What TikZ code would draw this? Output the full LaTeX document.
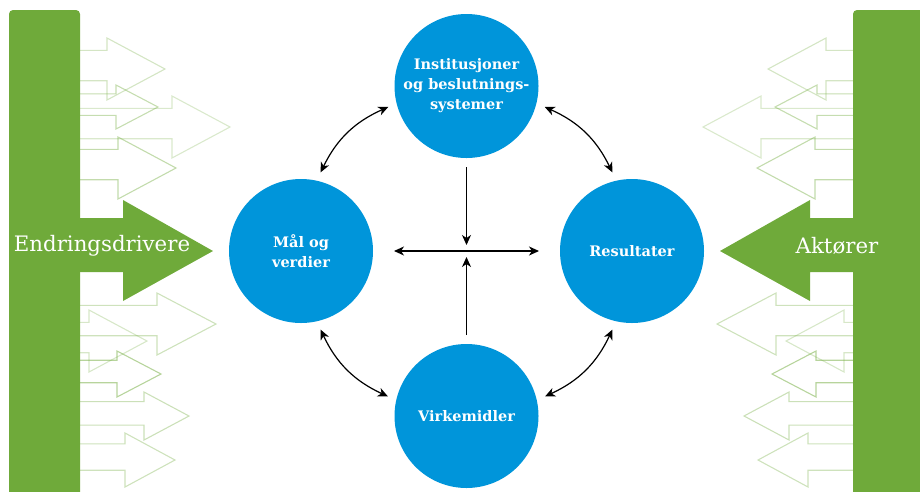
\documentclass[tikz,border=0pt]{standalone}
\usepackage{fontspec}
\setmainfont{DejaVu Serif}
\usepackage{xcolor}
\usetikzlibrary{arrows.meta, calc}

\definecolor{factorblue}{RGB}{0,149,218}
\definecolor{drivegreen}{RGB}{111,170,58}

\begin{document}
\begin{tikzpicture}[x=1pt, y=-1pt,
    % --- node styles ---
    factor/.style={circle, fill=factorblue, minimum size=144pt, inner sep=0pt,
        outer sep=9pt, text=white, align=center,
        font=\fontsize{14.5}{20}\selectfont\bfseries},
    sidelbl/.style={text=white, inner sep=0pt, font=\fontsize{21.3}{24}\selectfont},
    % --- side shapes ---
    bar/.style={fill=drivegreen},
    ghost/.style={draw=drivegreen, line width=1.1pt, line join=miter},
    % --- arrow styles ---
    arr/.style={-{Stealth[length=10pt, width=9pt, inset=3pt]}, line width=1.2pt},
    dbl/.style={{Stealth[length=10pt, width=9pt, inset=3pt]}-{Stealth[length=10pt, width=9pt, inset=3pt]},
        line width=1.2pt}
]
\useasboundingbox (0,0) rectangle (920,491);

%%% ================= SIDE DRIVERS (left, then mirrored) =================
\newcommand\drivers{%
  \foreach \c/\b/\t/\h/\o in {69/107/165/31/0.30, 107/116/158/22/0.40,
      127/172/230/31/0.26, 168/118/176/31/0.42, 324/157/216/31/0.34,
      341/89/147/31/0.28, 374/117/161/23/0.50, 416/144/189/24/0.36,
      460/125/175/27/0.34}
    \draw[ghost, draw opacity=\o] (80,\c-0.6*\h) -- (\b,\c-0.6*\h) -- (\b,\c-\h)
      -- (\t,\c) -- (\b,\c+\h) -- (\b,\c+0.38*\h) -- (80,\c+0.38*\h);
  \fill[bar, rounded corners=4pt] (9,496) -- (9,10) -- (80,10) -- (80,496) -- cycle;
  \fill[bar] (79,218) -- (123,218) -- (123,200) -- (213,251) -- (123,301)
    -- (123,272) -- (79,272) -- cycle;
}
\drivers
\begin{scope}[xshift=933pt, xscale=-1]
  \drivers
\end{scope}

\node (endring) [sidelbl] at (102,246) {Endringsdrivere};
\node (aktor)   [sidelbl] at (837,246) {Aktører};

%%% ================= FACTORS =================
\node (inst)    [factor] at (466.5,86)  {Institusjoner\\og beslutnings-\\systemer};
\node (goals)   [factor] at (301,251)   {Mål og\\verdier};
\node (results) [factor] at (632,251)   {Resultater};
\node (tools)   [factor] at (466.5,416) {Virkemidler};
\coordinate (hub) at (466.5,251);

%%% ================= ARROWS =================
%% Into the centre
\draw [arr, shorten >=6pt] (inst) -- (hub);
\draw [arr, shorten >=6pt] (tools) -- (hub);
\draw [dbl, shorten <=12pt, shorten >=12pt] (goals) -- (results);

%% Around the ring
\draw [dbl] (inst.195) to[bend right=20] (goals.76);
\draw [dbl] (inst.345) to[bend left=20] (results.104);
\draw [dbl] (goals.284) to[bend right=20] (tools.166);
\draw [dbl] (results.256) to[bend left=20] (tools.14);

\end{tikzpicture}
\end{document}
